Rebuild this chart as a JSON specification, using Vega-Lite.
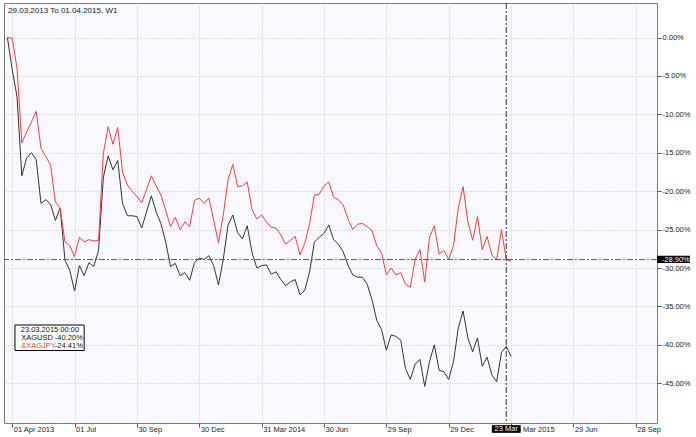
{
  "$schema": "https://vega.github.io/schema/vega-lite/v6.json",
  "width": 653,
  "height": 420,
  "autosize": {"type": "none"},
  "padding": {"left": 4, "top": 3, "right": 39, "bottom": 14},
  "background": "#ffffff",
  "config": {
    "font": "Liberation Sans",
    "view": {"fill": "#f8f8fe", "stroke": "#7a7a7a", "strokeWidth": 1}
  },
  "datasets": {
    "prices": [
      {"d":"2013-03-25","usd":0,"jpy":0},
      {"d":"2013-04-01","usd":-4.2,"jpy":-0.1},
      {"d":"2013-04-08","usd":-7.7,"jpy":-4.0},
      {"d":"2013-04-15","usd":-18.0,"jpy":-13.7},
      {"d":"2013-04-22","usd":-15.7,"jpy":-12.3},
      {"d":"2013-04-29","usd":-15.0,"jpy":-11.0},
      {"d":"2013-05-06","usd":-15.9,"jpy":-9.6},
      {"d":"2013-05-13","usd":-21.6,"jpy":-14.4},
      {"d":"2013-05-20","usd":-21.1,"jpy":-15.5},
      {"d":"2013-05-27","usd":-21.7,"jpy":-16.6},
      {"d":"2013-06-03","usd":-23.8,"jpy":-21.4},
      {"d":"2013-06-10","usd":-22.2,"jpy":-22.2},
      {"d":"2013-06-17","usd":-29.0,"jpy":-26.6},
      {"d":"2013-06-24","usd":-30.3,"jpy":-27.1},
      {"d":"2013-07-01","usd":-33.0,"jpy":-28.5},
      {"d":"2013-07-08","usd":-29.7,"jpy":-26.0},
      {"d":"2013-07-15","usd":-31.0,"jpy":-26.6},
      {"d":"2013-07-22","usd":-29.3,"jpy":-26.3},
      {"d":"2013-07-29","usd":-29.8,"jpy":-26.5},
      {"d":"2013-08-05","usd":-27.7,"jpy":-26.4},
      {"d":"2013-08-12","usd":-18.2,"jpy":-15.1},
      {"d":"2013-08-19","usd":-15.4,"jpy":-11.6},
      {"d":"2013-08-26","usd":-17.2,"jpy":-13.9},
      {"d":"2013-09-02","usd":-16.0,"jpy":-11.7},
      {"d":"2013-09-09","usd":-21.6,"jpy":-17.5},
      {"d":"2013-09-16","usd":-23.2,"jpy":-19.2},
      {"d":"2013-09-23","usd":-23.2,"jpy":-20.0},
      {"d":"2013-09-30","usd":-23.3,"jpy":-20.7},
      {"d":"2013-10-07","usd":-24.8,"jpy":-21.5},
      {"d":"2013-10-14","usd":-22.7,"jpy":-19.8},
      {"d":"2013-10-21","usd":-20.6,"jpy":-18.0},
      {"d":"2013-10-28","usd":-22.7,"jpy":-19.3},
      {"d":"2013-11-04","usd":-24.2,"jpy":-20.5},
      {"d":"2013-11-11","usd":-26.6,"jpy":-22.5},
      {"d":"2013-11-18","usd":-29.8,"jpy":-24.6},
      {"d":"2013-11-25","usd":-29.4,"jpy":-23.4},
      {"d":"2013-12-02","usd":-31.0,"jpy":-25.0},
      {"d":"2013-12-09","usd":-30.6,"jpy":-24.0},
      {"d":"2013-12-16","usd":-31.6,"jpy":-24.6},
      {"d":"2013-12-23","usd":-29.3,"jpy":-21.2},
      {"d":"2013-12-30","usd":-28.7,"jpy":-20.9},
      {"d":"2014-01-06","usd":-28.9,"jpy":-21.6},
      {"d":"2014-01-13","usd":-28.4,"jpy":-20.9},
      {"d":"2014-01-20","usd":-29.7,"jpy":-23.8},
      {"d":"2014-01-27","usd":-32.2,"jpy":-26.7},
      {"d":"2014-02-03","usd":-28.9,"jpy":-23.1},
      {"d":"2014-02-10","usd":-24.4,"jpy":-18.5},
      {"d":"2014-02-17","usd":-23.1,"jpy":-16.5},
      {"d":"2014-02-24","usd":-25.4,"jpy":-19.4},
      {"d":"2014-03-03","usd":-26.2,"jpy":-19.3},
      {"d":"2014-03-10","usd":-24.5,"jpy":-18.8},
      {"d":"2014-03-17","usd":-28.0,"jpy":-22.4},
      {"d":"2014-03-24","usd":-30.0,"jpy":-23.6},
      {"d":"2014-03-31","usd":-29.7,"jpy":-23.1},
      {"d":"2014-04-07","usd":-29.6,"jpy":-24.0},
      {"d":"2014-04-14","usd":-30.8,"jpy":-24.7},
      {"d":"2014-04-21","usd":-30.5,"jpy":-24.8},
      {"d":"2014-04-28","usd":-31.5,"jpy":-25.7},
      {"d":"2014-05-05","usd":-32.3,"jpy":-26.9},
      {"d":"2014-05-12","usd":-31.8,"jpy":-26.4},
      {"d":"2014-05-19","usd":-31.5,"jpy":-25.9},
      {"d":"2014-05-26","usd":-33.5,"jpy":-28.3},
      {"d":"2014-06-02","usd":-32.9,"jpy":-26.8},
      {"d":"2014-06-09","usd":-30.5,"jpy":-24.2},
      {"d":"2014-06-16","usd":-26.6,"jpy":-20.5},
      {"d":"2014-06-23","usd":-26.0,"jpy":-20.4},
      {"d":"2014-06-30","usd":-25.5,"jpy":-19.3},
      {"d":"2014-07-07","usd":-24.4,"jpy":-18.8},
      {"d":"2014-07-14","usd":-26.3,"jpy":-20.8},
      {"d":"2014-07-21","usd":-26.9,"jpy":-21.1},
      {"d":"2014-07-28","usd":-27.9,"jpy":-21.8},
      {"d":"2014-08-04","usd":-29.6,"jpy":-23.6},
      {"d":"2014-08-11","usd":-30.9,"jpy":-25.0},
      {"d":"2014-08-18","usd":-31.2,"jpy":-24.3},
      {"d":"2014-08-25","usd":-31.2,"jpy":-24.2},
      {"d":"2014-09-01","usd":-32.1,"jpy":-24.6},
      {"d":"2014-09-08","usd":-34.1,"jpy":-25.1},
      {"d":"2014-09-15","usd":-36.8,"jpy":-27.1},
      {"d":"2014-09-22","usd":-38.0,"jpy":-28.0},
      {"d":"2014-09-29","usd":-40.7,"jpy":-30.9},
      {"d":"2014-10-06","usd":-38.7,"jpy":-30.0},
      {"d":"2014-10-13","usd":-38.9,"jpy":-30.9},
      {"d":"2014-10-20","usd":-39.4,"jpy":-30.6},
      {"d":"2014-10-27","usd":-43.1,"jpy":-32.1},
      {"d":"2014-11-03","usd":-44.5,"jpy":-32.5},
      {"d":"2014-11-10","usd":-42.5,"jpy":-28.9},
      {"d":"2014-11-17","usd":-41.9,"jpy":-27.6},
      {"d":"2014-11-24","usd":-45.4,"jpy":-31.8},
      {"d":"2014-12-01","usd":-42.2,"jpy":-26.0},
      {"d":"2014-12-08","usd":-40.0,"jpy":-24.5},
      {"d":"2014-12-15","usd":-43.3,"jpy":-28.2},
      {"d":"2014-12-22","usd":-43.5,"jpy":-27.7},
      {"d":"2014-12-29","usd":-44.5,"jpy":-28.9},
      {"d":"2015-01-05","usd":-42.2,"jpy":-27.1},
      {"d":"2015-01-12","usd":-37.8,"jpy":-22.2},
      {"d":"2015-01-19","usd":-35.6,"jpy":-19.4},
      {"d":"2015-01-26","usd":-39.1,"jpy":-24.0},
      {"d":"2015-02-02","usd":-40.9,"jpy":-26.4},
      {"d":"2015-02-09","usd":-39.1,"jpy":-23.3},
      {"d":"2015-02-16","usd":-42.8,"jpy":-27.6},
      {"d":"2015-02-23","usd":-41.6,"jpy":-25.9},
      {"d":"2015-03-02","usd":-43.9,"jpy":-28.3},
      {"d":"2015-03-09","usd":-44.8,"jpy":-28.9},
      {"d":"2015-03-16","usd":-41.0,"jpy":-25.0},
      {"d":"2015-03-23","usd":-40.2,"jpy":-28.9},
      {"d":"2015-03-30","usd":-41.5,"jpy":-29.1}
    ]
  },
  "layer": [
    {
      "data": {"name": "prices"},
      "transform": [{"fold": ["usd", "jpy"], "as": ["series", "value"]}],
      "mark": {"type": "line", "strokeWidth": 1, "interpolate": "linear"},
      "encoding": {
        "x": {
          "field": "d", "type": "temporal",
          "scale": {"type": "utc", "domain": [{"year": 2013, "month": 3, "date": 20, "utc": true}, {"year": 2015, "month": 10, "date": 29, "utc": true}]},
          "axis": {
            "orient": "bottom", "title": null, "domain": false,
            "values": [
              {"year": 2013, "month": 4, "date": 1, "utc": true},
              {"year": 2013, "month": 7, "date": 1, "utc": true},
              {"year": 2013, "month": 9, "date": 30, "utc": true},
              {"year": 2013, "month": 12, "date": 30, "utc": true},
              {"year": 2014, "month": 3, "date": 31, "utc": true},
              {"year": 2014, "month": 6, "date": 30, "utc": true},
              {"year": 2014, "month": 9, "date": 29, "utc": true},
              {"year": 2014, "month": 12, "date": 29, "utc": true},
              {"year": 2015, "month": 3, "date": 30, "utc": true},
              {"year": 2015, "month": 6, "date": 29, "utc": true},
              {"year": 2015, "month": 9, "date": 28, "utc": true}
            ],
            "labelExpr": "(utcmonth(datum.value) == 2 || (utcyear(datum.value) == 2013 && utcmonth(datum.value) == 3)) ? utcFormat(datum.value, '%d %b %Y') : utcFormat(datum.value, '%d %b')",
            "labelAlign": "left", "labelBaseline": "middle", "labelPadding": 2, "labelOffset": 1,
            "labelFontSize": 7.5, "labelColor": "#222222", "labelFlush": false, "labelOverlap": false,
            "tickSize": 4, "tickColor": "#555555",
            "grid": true, "gridColor": "#c4c4c4", "gridDash": [1, 2], "gridWidth": 1
          }
        },
        "y": {
          "field": "value", "type": "quantitative",
          "scale": {"domain": [-50.17, 4.49], "nice": false, "zero": false},
          "axis": {
            "orient": "right", "title": null, "domain": false,
            "values": [0, -5, -10, -15, -20, -25, -30, -35, -40, -45],
            "labelExpr": "(datum.value < 0 ? '-' : '') + format(abs(datum.value), '.2f') + '%'",
            "labelAlign": "left", "labelBaseline": "middle", "labelPadding": 1,
            "labelFontSize": 7.5, "labelColor": "#222222", "labelOverlap": false,
            "tickSize": 4, "tickColor": "#555555",
            "grid": true, "gridColor": "#c4c4c4", "gridDash": [1, 2], "gridWidth": 1
          }
        },
        "color": {
          "field": "series", "type": "nominal",
          "scale": {"domain": ["usd", "jpy", "hdr"], "range": ["#333333", "#ff3b3b", "#111111"]},
          "legend": null
        }
      }
    },
    {
      "data": {"values": [{"d": "2015-03-23"}]},
      "mark": {"type": "rule", "color": "#333333", "strokeWidth": 1, "strokeDash": [6, 2, 2, 2]},
      "encoding": {"x": {"field": "d", "type": "temporal"}}
    },
    {
      "data": {"values": [{"v": -28.9}]},
      "mark": {"type": "rule", "color": "#555555", "strokeWidth": 1, "strokeDash": [6, 2, 2, 2]},
      "encoding": {"y": {"field": "v", "type": "quantitative"}}
    },
    {
      "data": {"values": [{"d": "2013-03-26", "v": 3.2, "t": "29.03.2013 To 01.04.2015, W1"}]},
      "mark": {"type": "text", "align": "left", "baseline": "alphabetic", "fontSize": 8, "color": "#222222"},
      "encoding": {
        "x": {"field": "d", "type": "temporal"},
        "y": {"field": "v", "type": "quantitative"},
        "text": {"field": "t"}
      }
    },
    {
      "data": {"values": [{"d1": "2013-04-05", "d2": "2013-07-15", "v1": -37.42, "v2": -40.73}]},
      "mark": {"type": "rect", "fill": "#ffffff", "stroke": "#000000", "strokeWidth": 1},
      "encoding": {
        "x": {"field": "d1", "type": "temporal"},
        "x2": {"field": "d2"},
        "y": {"field": "v1", "type": "quantitative"},
        "y2": {"field": "v2"}
      }
    },
    {
      "data": {"values": [{"d": "2013-05-26", "v": -38.07, "t": "23.03.2015 00:00", "series": "hdr"}]},
      "mark": {"type": "text", "align": "center", "baseline": "middle", "fontSize": 7.5},
      "encoding": {
        "x": {"field": "d", "type": "temporal"},
        "y": {"field": "v", "type": "quantitative"},
        "text": {"field": "t"},
        "color": {"field": "series", "type": "nominal", "legend": null}
      }
    },
    {
      "data": {"values": [
        {"d": "2013-04-14", "v": -39.11, "t": "XAGUSD", "series": "hdr"},
        {"d": "2013-04-14", "v": -40.15, "t": "&XAGJPY", "series": "jpy"}
      ]},
      "mark": {"type": "text", "align": "left", "baseline": "middle", "fontSize": 7.5},
      "encoding": {
        "x": {"field": "d", "type": "temporal"},
        "y": {"field": "v", "type": "quantitative"},
        "text": {"field": "t"},
        "color": {"field": "series", "type": "nominal", "legend": null}
      }
    },
    {
      "data": {"values": [
        {"d": "2013-07-13", "v": -39.11, "t": "-40.20%", "series": "hdr"},
        {"d": "2013-07-13", "v": -40.15, "t": "-24.41%", "series": "hdr"}
      ]},
      "mark": {"type": "text", "align": "right", "baseline": "middle", "fontSize": 7.5},
      "encoding": {
        "x": {"field": "d", "type": "temporal"},
        "y": {"field": "v", "type": "quantitative"},
        "text": {"field": "t"},
        "color": {"field": "series", "type": "nominal", "legend": null}
      }
    },
    {
      "data": {"values": [
        {"d1": "2015-10-29", "d2": "2015-12-16", "v1": -28.4, "v2": -29.35},
        {"d1": "2015-03-02", "d2": "2015-04-13", "v1": -50.45, "v2": -51.45}
      ]},
      "mark": {"type": "rect", "fill": "#000000"},
      "encoding": {
        "x": {"field": "d1", "type": "temporal"},
        "x2": {"field": "d2"},
        "y": {"field": "v1", "type": "quantitative"},
        "y2": {"field": "v2"}
      }
    },
    {
      "data": {"values": [{"d": "2015-11-05", "v": -28.9, "t": "-28.90%"}]},
      "mark": {"type": "text", "align": "left", "baseline": "middle", "fontSize": 7.5, "color": "#ffffff"},
      "encoding": {
        "x": {"field": "d", "type": "temporal"},
        "y": {"field": "v", "type": "quantitative"},
        "text": {"field": "t"}
      }
    },
    {
      "data": {"values": [{"d": "2015-03-23", "v": -50.95, "t": "23 Mar"}]},
      "mark": {"type": "text", "align": "center", "baseline": "middle", "fontSize": 7.5, "color": "#ffffff"},
      "encoding": {
        "x": {"field": "d", "type": "temporal"},
        "y": {"field": "v", "type": "quantitative"},
        "text": {"field": "t"}
      }
    }
  ]
}
